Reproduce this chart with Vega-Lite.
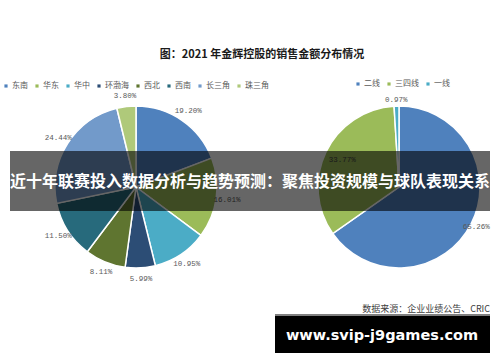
{
  "$schema": "https://vega.github.io/schema/vega-lite/v6.json",
  "width": 500,
  "height": 362,
  "autosize": {"type": "fit", "contains": "padding"},
  "padding": 0,
  "background": "white",
  "config": {"view": {"stroke": null}},
  "resolve": {"scale": {"color": "independent"}},
  "layer": [
    {
      "data": {"values": [
        {"区域": "东南", "占比": 0.1920, "序": 1},
        {"区域": "华东", "占比": 0.1601, "序": 2},
        {"区域": "华中", "占比": 0.1095, "序": 3},
        {"区域": "环渤海", "占比": 0.0599, "序": 4},
        {"区域": "西北", "占比": 0.0811, "序": 5},
        {"区域": "西南", "占比": 0.1150, "序": 6},
        {"区域": "长三角", "占比": 0.2444, "序": 7},
        {"区域": "珠三角", "占比": 0.0380, "序": 8}
      ]},
      "layer": [
        {
          "mark": {"type": "arc", "radius": 81, "stroke": "white", "strokeWidth": 1.5},
          "encoding": {
            "x": {"datum": 136, "type": "quantitative", "scale": {"domain": [0, 500], "nice": false, "zero": false}, "axis": null},
            "y": {"datum": 187, "type": "quantitative", "scale": {"domain": [0, 362], "nice": false, "zero": false, "reverse": true}, "axis": null},
            "theta": {"field": "占比", "type": "quantitative", "stack": true},
            "order": {"field": "序", "type": "quantitative"},
            "color": {
              "field": "区域", "type": "nominal",
              "scale": {
                "domain": ["东南", "华东", "华中", "环渤海", "西北", "西南", "长三角", "珠三角"],
                "range": ["#4F81BD", "#9BBB59", "#4BACC6", "#2C4D75", "#5F7530", "#276A7C", "#729ACA", "#AFC97A"]
              },
              "legend": {
                "orient": "none", "legendX": 2, "legendY": 82, "direction": "horizontal", "title": null,
                "symbolType": "square", "symbolSize": 10, "symbolStrokeWidth": 0,
                "labelFont": "Noto Sans CJK SC", "labelFontSize": 8, "labelColor": "#595959",
                "labelOffset": 2, "columnPadding": 5
              }
            }
          }
        },
        {
          "mark": {"type": "text", "radius": 92, "font": "Liberation Mono", "fontSize": 7.5, "color": "#595959", "align": "center", "baseline": "middle"},
          "encoding": {
            "x": {"datum": 136, "type": "quantitative", "scale": {"domain": [0, 500], "nice": false, "zero": false}, "axis": null},
            "y": {"datum": 187, "type": "quantitative", "scale": {"domain": [0, 362], "nice": false, "zero": false, "reverse": true}, "axis": null},
            "theta": {"field": "占比", "type": "quantitative", "stack": true},
            "order": {"field": "序", "type": "quantitative"},
            "detail": {"field": "区域", "type": "nominal"},
            "text": {"field": "占比", "type": "quantitative", "format": ".2%"}
          }
        }
      ]
    },
    {
      "data": {"values": [
        {"城市": "二线", "占比": 0.6526, "序": 1},
        {"城市": "三四线", "占比": 0.3377, "序": 2},
        {"城市": "一线", "占比": 0.0097, "序": 3}
      ]},
      "layer": [
        {
          "mark": {"type": "arc", "radius": 81, "stroke": "white", "strokeWidth": 1.5},
          "encoding": {
            "x": {"datum": 399, "type": "quantitative", "scale": {"domain": [0, 500], "nice": false, "zero": false}, "axis": null},
            "y": {"datum": 187, "type": "quantitative", "scale": {"domain": [0, 362], "nice": false, "zero": false, "reverse": true}, "axis": null},
            "theta": {"field": "占比", "type": "quantitative", "stack": true},
            "order": {"field": "序", "type": "quantitative"},
            "color": {
              "field": "城市", "type": "nominal",
              "scale": {"domain": ["二线", "三四线", "一线"], "range": ["#4F81BD", "#9BBB59", "#4BACC6"]},
              "legend": {
                "orient": "none", "legendX": 354, "legendY": 80, "direction": "horizontal", "title": null,
                "symbolType": "square", "symbolSize": 10, "symbolStrokeWidth": 0,
                "labelFont": "Noto Sans CJK SC", "labelFontSize": 8, "labelColor": "#595959",
                "labelOffset": 2, "columnPadding": 5
              }
            }
          }
        },
        {
          "mark": {"type": "text", "radius": 87, "font": "Liberation Mono", "fontSize": 7.5, "color": "#595959", "align": "center", "baseline": "middle"},
          "encoding": {
            "x": {"datum": 399, "type": "quantitative", "scale": {"domain": [0, 500], "nice": false, "zero": false}, "axis": null},
            "y": {"datum": 187, "type": "quantitative", "scale": {"domain": [0, 362], "nice": false, "zero": false, "reverse": true}, "axis": null},
            "theta": {"field": "占比", "type": "quantitative", "stack": true},
            "order": {"field": "序", "type": "quantitative"},
            "detail": {"field": "城市", "type": "nominal"},
            "text": {"condition": {"test": "datum['城市'] !== '三四线'", "field": "占比", "type": "quantitative", "format": ".2%"}, "value": ""}
          }
        },
        {
          "mark": {"type": "text", "radius": 63, "font": "Liberation Mono", "fontSize": 7.5, "color": "#404040", "align": "center", "baseline": "middle"},
          "encoding": {
            "x": {"datum": 399, "type": "quantitative", "scale": {"domain": [0, 500], "nice": false, "zero": false}, "axis": null},
            "y": {"datum": 187, "type": "quantitative", "scale": {"domain": [0, 362], "nice": false, "zero": false, "reverse": true}, "axis": null},
            "theta": {"field": "占比", "type": "quantitative", "stack": true},
            "order": {"field": "序", "type": "quantitative"},
            "detail": {"field": "城市", "type": "nominal"},
            "text": {"condition": {"test": "datum['城市'] === '三四线'", "field": "占比", "type": "quantitative", "format": ".2%"}, "value": ""}
          }
        }
      ]
    },
    {
      "data": {"values": [{"文字": "图：2021 年金辉控股的销售金额分布情况"}]},
      "mark": {"type": "text", "font": "Noto Sans CJK SC", "fontWeight": "bold", "fontSize": 11, "color": "#1a1a1a", "align": "center", "baseline": "middle"},
      "encoding": {
        "x": {"datum": 262, "type": "quantitative"},
        "y": {"datum": 55, "type": "quantitative"},
        "text": {"field": "文字", "type": "nominal"}
      }
    },
    {
      "data": {"values": [{"文字": "数据来源：企业业绩公告、CRIC"}]},
      "mark": {"type": "text", "font": "Noto Sans CJK SC", "fontSize": 9, "color": "#404040", "align": "right", "baseline": "middle"},
      "encoding": {
        "x": {"datum": 490, "type": "quantitative"},
        "y": {"datum": 309, "type": "quantitative"},
        "text": {"field": "文字", "type": "nominal"}
      }
    },
    {
      "data": {"values": [{"文字": "横幅"}]},
      "mark": {"type": "rect", "color": "#000000", "opacity": 0.6},
      "encoding": {
        "x": {"datum": 10, "type": "quantitative"},
        "x2": {"datum": 490},
        "y": {"datum": 151, "type": "quantitative"},
        "y2": {"datum": 211}
      }
    },
    {
      "data": {"values": [{"文字": "近十年联赛投入数据分析与趋势预测：聚焦投资规模与球队表现关系"}]},
      "mark": {"type": "text", "font": "Noto Sans CJK SC", "fontWeight": "bold", "fontSize": 16, "color": "#ffffff", "align": "center", "baseline": "middle"},
      "encoding": {
        "x": {"datum": 250, "type": "quantitative"},
        "y": {"datum": 182, "type": "quantitative"},
        "text": {"field": "文字", "type": "nominal"}
      }
    },
    {
      "data": {"values": [{"文字": "水印"}]},
      "mark": {"type": "rule", "color": "#808080", "strokeWidth": 2},
      "encoding": {
        "x": {"datum": 275, "type": "quantitative"},
        "x2": {"datum": 490},
        "y": {"datum": 315, "type": "quantitative"}
      }
    },
    {
      "data": {"values": [{"文字": "水印"}]},
      "mark": {"type": "rect", "color": "#000000"},
      "encoding": {
        "x": {"datum": 275, "type": "quantitative"},
        "x2": {"datum": 490},
        "y": {"datum": 316, "type": "quantitative"},
        "y2": {"datum": 353}
      }
    },
    {
      "data": {"values": [{"文字": "www.svip-j9games.com"}]},
      "mark": {"type": "text", "font": "DejaVu Sans", "fontWeight": "bold", "fontSize": 14.5, "color": "#ffffff", "align": "center", "baseline": "middle"},
      "encoding": {
        "x": {"datum": 382, "type": "quantitative"},
        "y": {"datum": 336, "type": "quantitative"},
        "text": {"field": "文字", "type": "nominal"}
      }
    }
  ]
}
